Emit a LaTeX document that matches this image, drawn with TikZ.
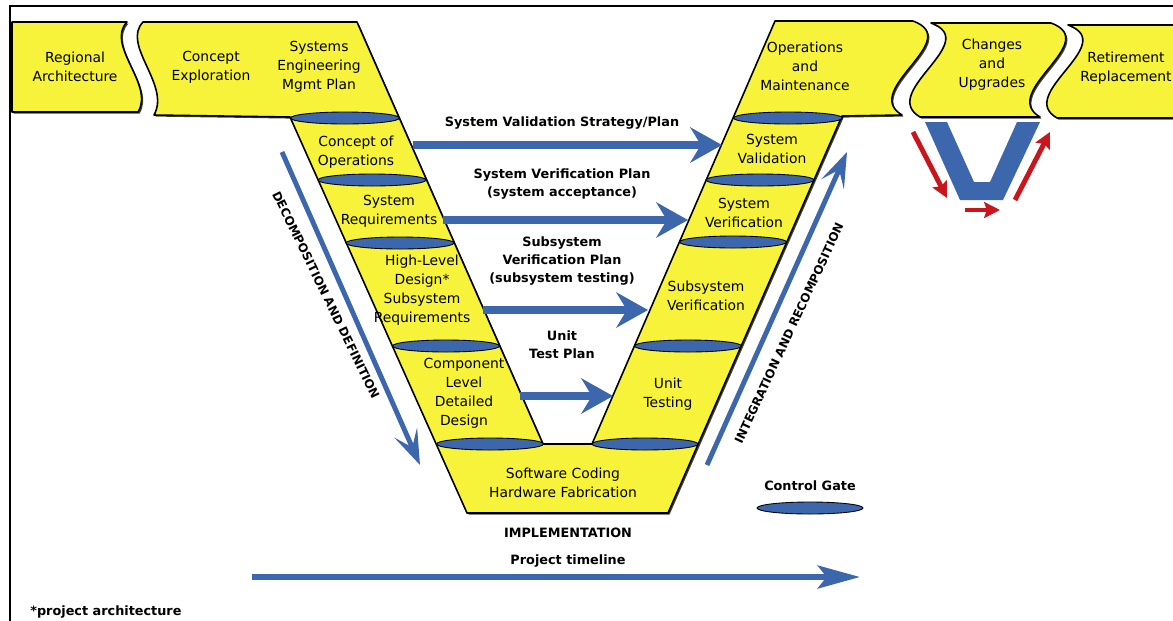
\documentclass[tikz,border=0pt]{standalone}
\usepackage{fontspec}
\setmainfont{DejaVu Sans}
\usetikzlibrary{positioning, arrows.meta, shadows}
\definecolor{vyellow}{RGB}{246,243,58}
\definecolor{vblue}{RGB}{61,103,172}
\definecolor{vred}{RGB}{200,22,28}

\begin{document}
\begin{tikzpicture}[x=0.02cm, y=-0.02cm,
    band/.style={fill=vyellow, draw=black, line width=0.9pt, line join=round,
        drop shadow={shadow xshift=0.9pt, shadow yshift=-0.9pt, fill=black!75, opacity=1}},
    gate/.style={fill=vblue, draw=black, line width=0.5pt},
    boxtext/.style={align=center, inner sep=0pt, font=\fontsize{7.9}{10.8}\selectfont},
    plantext/.style={align=center, inner sep=0pt, font=\bfseries\fontsize{7.3}{10.3}\selectfont},
    rotlabel/.style={inner sep=0pt, font=\bfseries\fontsize{6.8}{8}\selectfont},
    planarrow/.style={vblue, line width=4pt, -{Stealth[length=18pt, width=20pt, inset=6pt]}},
    flowarrow/.style={vblue, line width=2.8pt, -{Stealth[length=20pt, width=14pt, inset=9pt]}},
    redarrow/.style={vred, line width=2.8pt, -{Stealth[length=9pt, width=9pt, inset=1.5pt]}}]
    \useasboundingbox (0,0) rectangle (1173,620);
    \clip (0,0) rectangle (1173,620);

    \draw[line width=1.1pt] (10,630) -- (10,6) -- (1180,6);

    \path[band] (12,22) -- (127,22) .. controls (105,45) and (155,85) .. (138,112) -- (12,112) -- cycle;
    \path[band] (143,22) -- (357,22) -- (543,444) -- (592,444) -- (775,21) -- (913,21)
        .. controls (965,40) and (860,90) .. (902,115) -- (842,116) -- (668,513) -- (467,513)
        -- (290,117) -- (154,115) .. controls (171,85) and (121,45) .. (143,22) -- cycle;
    \path[band] (931,23) -- (1051,23) .. controls (1103,42) and (998,92) .. (1040,117)
        -- (920,117) .. controls (878,92) and (983,42) .. (931,23) -- cycle;
    \path[band] (1068,25) -- (1190,25) -- (1190,118) -- (1057,118)
        .. controls (1015,94) and (1120,44) .. (1068,25) -- cycle;

    \draw[gate] (345,118) ellipse [x radius=54.5, y radius=6];
    \draw[gate] (372,180) ellipse [x radius=54, y radius=6];
    \draw[gate] (400,243) ellipse [x radius=54, y radius=6];
    \draw[gate] (446,346) ellipse [x radius=53.5, y radius=6];
    \draw[gate] (490,444) ellipse [x radius=53.5, y radius=6];
    \draw[gate] (788,118) ellipse [x radius=54.5, y radius=6];
    \draw[gate] (760,180) ellipse [x radius=54, y radius=6];
    \draw[gate] (733,242) ellipse [x radius=53.5, y radius=6];
    \draw[gate] (688,346) ellipse [x radius=53.5, y radius=6];
    \draw[gate] (645,444) ellipse [x radius=53, y radius=6];

    \node[boxtext] (reg) at (75,67) {Regional\\Architecture};
    \node[boxtext] (conexp) at (211,67) {Concept\\Exploration};
    \node[boxtext] (semp) at (319,67) {Systems\\Engineering\\Mgmt Plan};
    \node[boxtext] (conops) at (356,152) {Concept of\\Operations};
    \node[boxtext] (sysreq) at (389,211) {System\\Requirements};
    \node[boxtext] (hld) at (422,290) {High-Level\\Design*\\Subsystem\\Requirements};
    \node[boxtext] (cld) at (464,393) {Component\\Level\\Detailed\\Design};
    \node[boxtext] (swhw) at (563,483) {Software Coding\\Hardware Fabrication};
    \node[boxtext] (unit) at (668,394) {Unit\\Testing};
    \node[boxtext] (subver) at (706,296) {Subsystem\\Verification};
    \node[boxtext] (sysver) at (744,213) {System\\Verification};
    \node[boxtext] (sysval) at (772,149) {System\\Validation};
    \node[boxtext] (ops) at (805,66) {Operations\\and\\Maintenance};
    \node[boxtext] (chg) at (992,65) {Changes\\and\\Upgrades};
    \node[boxtext] (ret) at (1126,68) {Retirement\\Replacement};

    \node[plantext] (valplan) at (562,123) {System Validation Strategy/Plan};
    \node[plantext] (verplan) at (562,184) {System Verification Plan\\(system acceptance)};
    \node[plantext] (subplan) at (562,261) {Subsystem\\Verification Plan\\(subsystem testing)};
    \node[plantext] (unitplan) at (562,345) {Unit\\Test Plan};
    \node[plantext] (impl) at (568,533) {IMPLEMENTATION};
    \node[plantext, below=9pt of impl] (tllbl) {Project timeline};
    \node[plantext, anchor=west] (note) at (30,612) {*project architecture};

    \coordinate (conops-e) at (413,145);
    \coordinate (sysval-w) at (722,145);
    \coordinate (sysreq-e) at (443,220);
    \coordinate (sysver-w) at (688,220);
    \coordinate (hld-e) at (483,310);
    \coordinate (subver-w) at (648,310);
    \coordinate (cld-e) at (520,396);
    \coordinate (unit-w) at (613,396);
    \draw[planarrow] (conops-e) -- (sysval-w);
    \draw[planarrow] (sysreq-e) -- (sysver-w);
    \draw[planarrow] (hld-e) -- (subver-w);
    \draw[planarrow] (cld-e) -- (unit-w);

    \coordinate (dec-s) at (282,152);
    \coordinate (dec-e) at (420,465);
    \coordinate (int-s) at (707,465);
    \coordinate (int-e) at (847,152);
    \draw[flowarrow] (dec-s) -- (dec-e);
    \draw[flowarrow] (int-s) -- (int-e);
    \node[rotlabel, rotate=-64] (declbl) at (326,295) {DECOMPOSITION AND DEFINITION};
    \node[rotlabel, rotate=65] (intlbl) at (789,333) {INTEGRATION AND RECOMPOSITION};

    \coordinate (tl-s) at (252,577);
    \coordinate (tl-e) at (860,577);
    \draw[vblue, line width=3.4pt, -{Stealth[length=24pt, width=13pt, inset=5pt]}] (tl-s) -- (tl-e);

    \coordinate (gatekey) at (810,508);
    \draw[gate] (gatekey) ellipse [x radius=53, y radius=6];
    \node[plantext, above=9.5pt of gatekey] (gatelbl) {Control Gate};

    \fill[vblue] (925,122) -- (947,122) -- (974,182) -- (990,182) -- (1017,122) -- (1040,122)
        -- (1003,200) -- (960,200) -- cycle;
    \coordinate (chg-a) at (913,132);
    \coordinate (chg-b) at (947,198);
    \coordinate (chg-c) at (965,210);
    \coordinate (chg-d) at (1000,210);
    \coordinate (chg-e) at (1015,200);
    \coordinate (chg-f) at (1050,132);
    \draw[redarrow] (chg-a) -- (chg-b);
    \draw[redarrow] (chg-c) -- (chg-d);
    \draw[redarrow] (chg-e) -- (chg-f);
\end{tikzpicture}
\end{document}
